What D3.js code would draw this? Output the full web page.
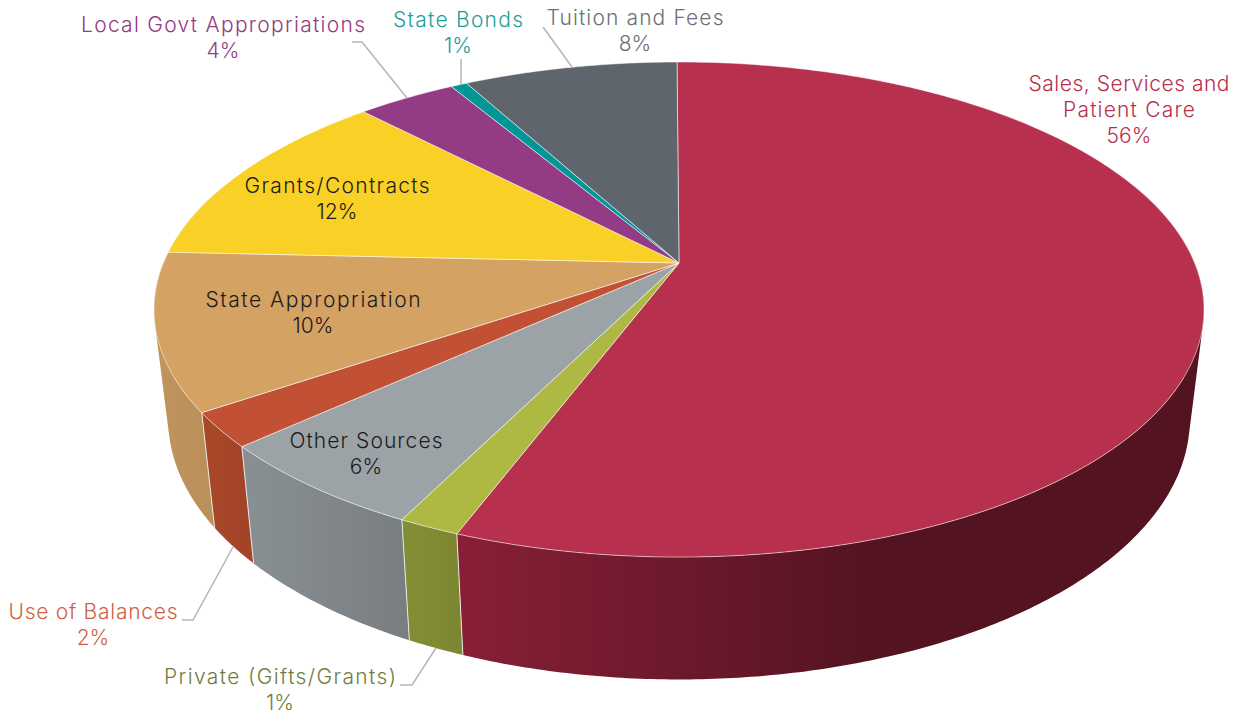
<!DOCTYPE html>
<html><head><meta charset="utf-8">
<style>html,body{margin:0;padding:0;background:#fff}svg{display:block}</style>
<script src="https://cdn.jsdelivr.net/npm/d3@7/dist/d3.min.js"></script></head>
<body><svg id="c" width="1236" height="713"></svg>
<script>
const categories=["Sales, Services and Patient Care","Private (Gifts/Grants)","Other Sources","Use of Balances","State Appropriation","Grants/Contracts","Local Govt Appropriations","State Bonds","Tuition and Fees"];
const sliceShares=[55.85,1.6,5.9,2.25,10.2,12.05,3.65,0.6,7.9];
const percentLabels=["56%","1%","6%","2%","10%","12%","4%","1%","8%"];
const labelLines=[["Sales, Services and","Patient Care"],["Private (Gifts/Grants)"],["Other Sources"],["Use of Balances"],["State Appropriation"],["Grants/Contracts"],["Local Govt Appropriations"],["State Bonds"],["Tuition and Fees"]];

const lineWidths=[[201,132],[232],[153],[169],[215],[185],[284],[130],[177]];
const topColors=["#b7304d","#adb942","#9ca3a6","#c25034","#d4a263","#f9d025","#933b84","#009696","#5f656d"];
const wallLight=["#871f36","#838f34","#899093","#aa4829","#c0945e","#c0a020","#702c64","#007070","#474c52"];
const wallDark=["#541321","#7d8732","#797e81","#a34428","#bb905a","#c0a020","#702c64","#007070","#474c52"];
const textColors=["#b7304d","#6f7d40","#1c1c1c","#cf5f45","#1c1c1c","#1c1c1c","#933b84","#1ba09c","#6b7177"];
const labelCenters=[[1129,91],[280,684],[366,448],[93,619],[313,307],[337,193],[223,32],[458,27],[635,25]];
const leaders=[[[352,42],[362,42],[407,98]],[[461,59],[461,85]],[[543,27],[572,67]],[[182,620],[193,620],[233,547]],[[400,685],[412,685],[436,648]]];

const cx=679,cy=263,A=515.6,H=238.8,K=0.188,lineStep=26,fontSize=21;
const svg=d3.select("#c");
const defs=svg.append("defs");
const project=a=>{const u=Math.sin(a),v=Math.cos(a),w=1+K*v;return [cx+A*u/w,cy-H*v/w];};
const lower=p=>[cx+0.973*(p[0]-cx),p[1]+110+0.05*(p[1]-310)];
const off=-0.26*Math.PI/180;
const arcs=d3.pie().sort(null).startAngle(off).endAngle(2*Math.PI+off).value(d=>d)(sliceShares);
const samples=(a0,a1)=>{const n=Math.max(2,Math.ceil((a1-a0)/0.01));return d3.range(n+1).map(i=>a0+(a1-a0)*i/n);};
const line=d3.line();

// walls: one path per slice, built from same-winding quads so there are no seams
arcs.forEach((d,i)=>{
  const pts=samples(d.startAngle,d.endAngle).filter(a=>Math.cos(a)<0.35);
  if(pts.length<2)return;
  const ring=pts.map(project);
  const dom=d3.extent(ring,p=>p[0]);
  const range=i===0?[463,870]:dom;
  const g=defs.append("linearGradient").attr("id","w"+i).attr("gradientUnits","userSpaceOnUse")
    .attr("x1",range[0]).attr("x2",range[1]).attr("y1",0).attr("y2",0);
  g.append("stop").attr("offset",0).attr("stop-color",wallLight[i]);
  g.append("stop").attr("offset",1).attr("stop-color",wallDark[i]);
  const quads=d3.pairs(ring).map(([a,b])=>{
    const q=[a,b,lower(b),lower(a)];
    if(d3.polygonArea(q)<0)q.reverse();
    return line(q)+"Z";
  }).join("");
  svg.append("path").attr("d",quads).attr("fill",`url(#w${i})`);
});
// white edges on wall
arcs.forEach(d=>{
  const a=project(d.startAngle);
  if(Math.cos(d.startAngle)<-0.3)
    svg.append("path").attr("d",line([a,lower(a)])).attr("stroke","#e8e8e8").attr("stroke-width",1).attr("fill","none");
});
// top
arcs.forEach((d,i)=>{
  const ring=samples(d.startAngle,d.endAngle).map(project);
  svg.append("path").attr("d",line([[cx,cy],...ring])+"Z").attr("fill",topColors[i]).attr("stroke","#fff").attr("stroke-opacity",0.6).attr("stroke-width",0.9).attr("stroke-linejoin","round");
});
// leaders
leaders.forEach(l=>svg.append("path").attr("d",line(l)).attr("fill","none").attr("stroke","#b5b5b5").attr("stroke-width",1.5));
// labels
categories.forEach((c,i)=>{
  const t=svg.append("text").attr("text-anchor","middle").attr("font-family","Inter").attr("font-weight",300).attr("font-size",fontSize).attr("fill",textColors[i]);
  labelLines[i].forEach((s,j)=>t.append("tspan").attr("x",labelCenters[i][0]).attr("y",labelCenters[i][1]+j*lineStep).attr("textLength",lineWidths[i][j]).attr("lengthAdjust","spacing").text(s));
  t.append("tspan").attr("x",labelCenters[i][0]).attr("y",labelCenters[i][1]+labelLines[i].length*lineStep).text(percentLabels[i]);
});
</script></body></html>
